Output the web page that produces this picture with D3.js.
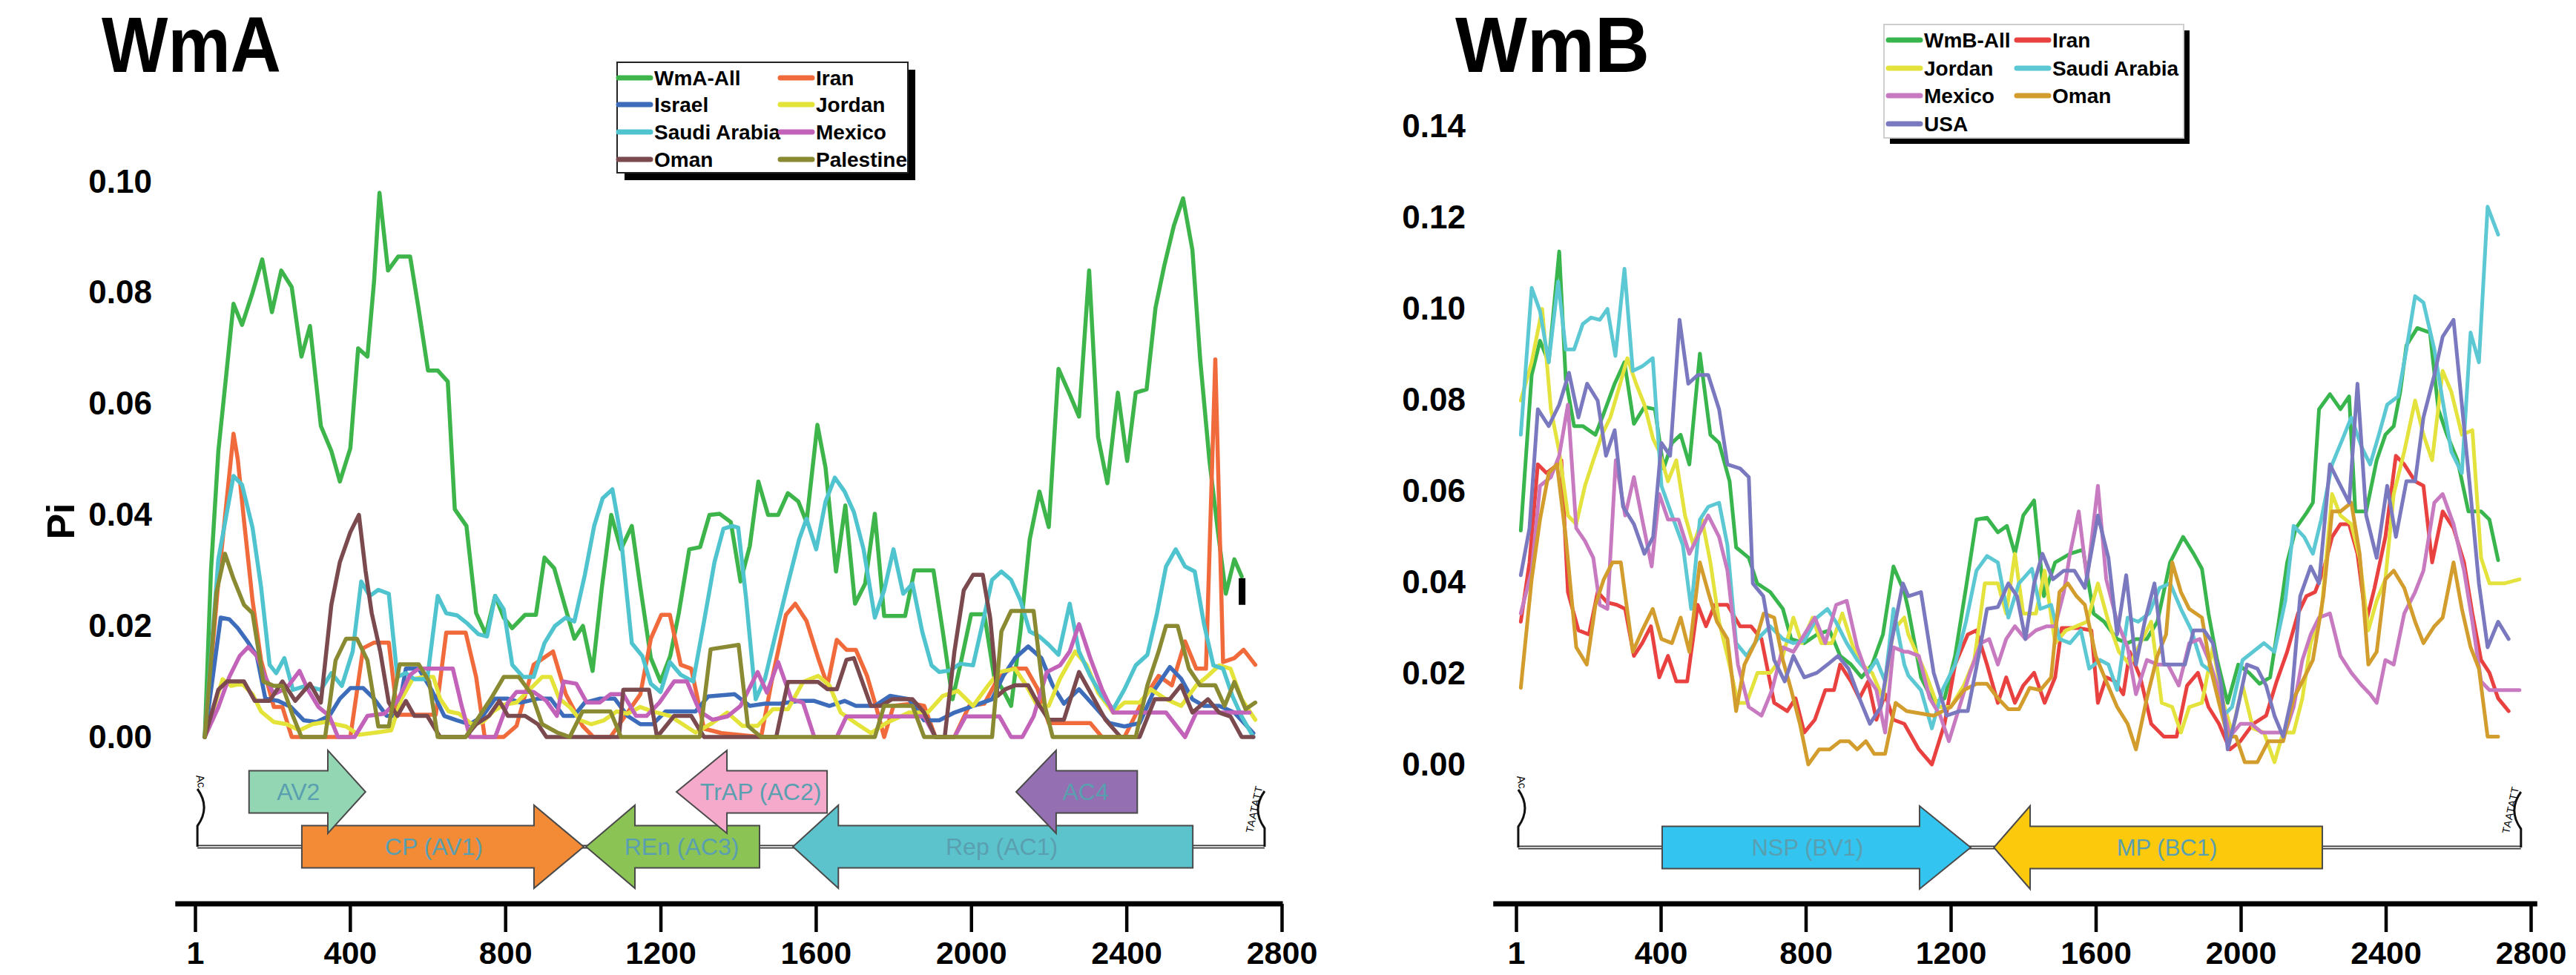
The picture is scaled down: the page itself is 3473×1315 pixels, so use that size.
<!DOCTYPE html>
<html><head><meta charset="utf-8">
<script src="https://cdn.jsdelivr.net/npm/d3@7"></script>
<style>
body{margin:0;background:#fff}
svg{display:block}
text{font-family:"Liberation Sans",Arial,Helvetica,sans-serif}
</style>
</head><body>
<svg id="c" width="3473" height="1315"></svg>
<script>
// ---------------- DATA: WmA (left) ----------------
const xTicks = [1,400,800,1200,1600,2000,2400,2800];
const yTicksA = [0,0.02,0.04,0.06,0.08,0.10];
const yTicksB = [0,0.02,0.04,0.06,0.08,0.10,0.12,0.14];

const wmaAll = [[26,0],[42,0.030],[61,0.0515],[81,0.065],[100,0.078],[122,0.0742],[149,0.080],[174,0.086],[199,0.0765],[223,0.084],[250,0.081],[275,0.0685],[297,0.074],[325,0.056],[352,0.0515],[374,0.046],[401,0.052],[421,0.070],[445,0.0685],[462,0.082],[476,0.098],[498,0.084],[524,0.0865],[555,0.0865],[577,0.077],[601,0.066],[626,0.066],[652,0.064],[670,0.041],[700,0.038],[725,0.0223],[750,0.0185],[774,0.0254],[796,0.0215],[818,0.0196],[851,0.022],[879,0.022],[901,0.0323],[926,0.0304],[956,0.023],[978,0.0177],[1000,0.020],[1025,0.0119],[1049,0.027],[1073,0.040],[1098,0.0338],[1126,0.038],[1148,0.027],[1175,0.0142],[1200,0.010],[1225,0.0146],[1247,0.0223],[1274,0.0338],[1302,0.0342],[1326,0.040],[1352,0.0402],[1381,0.0387],[1406,0.028],[1430,0.0344],[1452,0.046],[1477,0.040],[1503,0.040],[1528,0.0439],[1555,0.0424],[1576,0.0387],[1604,0.0562],[1625,0.0485],[1652,0.0298],[1676,0.0417],[1701,0.024],[1727,0.0276],[1752,0.0402],[1776,0.0218],[1830,0.0218],[1854,0.030],[1903,0.030],[1927,0.019],[1952,0.0068],[1976,0.0142],[2000,0.0221],[2034,0.0221],[2059,0.011],[2081,0.0086],[2103,0.0056],[2127,0.019],[2151,0.0356],[2176,0.0442],[2200,0.0378],[2225,0.0663],[2254,0.0617],[2278,0.0577],[2304,0.084],[2327,0.054],[2351,0.0457],[2378,0.062],[2402,0.0497],[2424,0.062],[2452,0.0626],[2475,0.0773],[2497,0.0847],[2522,0.092],[2546,0.097],[2570,0.0877],[2590,0.068],[2614,0.0497],[2634,0.038],[2656,0.0258],[2678,0.032],[2697,0.0289]];
const iranA = [[26,0],[61,0.028],[100,0.0546],[111,0.050],[127,0.039],[149,0.0246],[171,0.0138],[204,0.0054],[226,0.0054],[250,0],[401,0],[434,0.016],[462,0.017],[500,0.017],[522,0.004],[621,0.004],[648,0.0188],[698,0.0188],[725,0.0108],[747,0],[796,0],[829,0.002],[873,0.013],[923,0.0154],[956,0.0077],[999,0.002],[1027,0],[1071,0],[1148,0.0077],[1175,0.0177],[1202,0.022],[1224,0.022],[1252,0.013],[1279,0.0123],[1312,0.0015],[1357,0.0007],[1459,0],[1489,0.011],[1523,0.022],[1547,0.024],[1576,0.0209],[1606,0.0142],[1630,0.0093],[1654,0.0175],[1679,0.0157],[1703,0.0157],[1732,0.011],[1757,0.005],[1776,0],[1800,0.0056],[1849,0.006],[1879,0.0056],[1908,0],[1957,0],[1995,0.0056],[2034,0.006],[2073,0.011],[2103,0.0123],[2142,0.0123],[2171,0.0087],[2200,0.0025],[2307,0.0025],[2337,0],[2395,0],[2444,0.0068],[2483,0.011],[2517,0.0093],[2551,0.0172],[2580,0.0123],[2605,0.0123],[2629,0.068],[2649,0.0135],[2678,0.0142],[2702,0.0157],[2732,0.013]];
const israelA = [[26,0],[67,0.0215],[89,0.0212],[111,0.0196],[138,0.017],[160,0.0146],[182,0.0069],[215,0.0065],[248,0.0054],[281,0.003],[314,0.0027],[347,0.0038],[374,0.0069],[401,0.0088],[434,0.0088],[462,0.0069],[495,0.0038],[522,0.0038],[544,0.0123],[577,0.0123],[610,0.0085],[643,0.0038],[676,0.003],[709,0.0023],[742,0.0038],[774,0.0069],[807,0.0069],[840,0.0062],[884,0.0069],[917,0.0069],[950,0.0038],[977,0.0038],[1005,0.0062],[1043,0.0069],[1082,0.0069],[1115,0.0038],[1148,0.0023],[1180,0.0023],[1213,0.0046],[1247,0.0046],[1290,0.0046],[1323,0.0073],[1391,0.0077],[1430,0.0056],[1469,0.006],[1508,0.006],[1557,0.0065],[1596,0.0065],[1635,0.0056],[1674,0.0065],[1703,0.0056],[1752,0.0056],[1791,0.0074],[1840,0.0068],[1879,0.003],[1918,0.003],[1957,0.0044],[2005,0.0056],[2054,0.0068],[2083,0.011],[2113,0.0142],[2147,0.0163],[2181,0.0142],[2210,0.0093],[2239,0.006],[2278,0.0086],[2317,0.0056],[2356,0.0025],[2395,0.0019],[2434,0.0025],[2473,0.0086],[2512,0.0126],[2541,0.0105],[2570,0.0068],[2600,0.0056],[2639,0.0056],[2678,0.0044],[2727,0.0007]];
const jordanA = [[26,0],[72,0.0104],[94,0.0092],[122,0.0096],[149,0.0077],[171,0.0046],[204,0.0027],[237,0.0023],[270,0.0012],[303,0.0023],[336,0.0027],[363,0.0023],[390,0.0019],[423,0.0004],[467,0.0008],[506,0.0012],[533,0.0069],[561,0.0104],[588,0.0108],[615,0.0108],[632,0.0069],[654,0.0046],[681,0.0042],[714,0.0023],[742,0.0027],[769,0.0046],[796,0.0058],[829,0.0062],[862,0.0085],[895,0.0108],[917,0.0108],[939,0.0069],[966,0.0054],[994,0.003],[1021,0.0023],[1054,0.003],[1087,0.0046],[1115,0.0042],[1148,0.0054],[1180,0.0046],[1224,0.0038],[1257,0.0023],[1290,0.0008],[1333,0.0025],[1372,0.0044],[1411,0.002],[1450,0.002],[1489,0.005],[1528,0.005],[1567,0.0099],[1606,0.011],[1635,0.0093],[1664,0.0044],[1703,0.0025],[1742,0.0007],[1781,0.0025],[1840,0.0044],[1888,0.0044],[1927,0.0074],[1966,0.0083],[2005,0.0056],[2044,0.0093],[2073,0.0117],[2113,0.0123],[2142,0.0093],[2171,0.0056],[2200,0.0056],[2229,0.0105],[2268,0.0154],[2298,0.0129],[2327,0.008],[2366,0.0044],[2395,0.0062],[2434,0.0062],[2463,0.0086],[2502,0.0068],[2541,0.0056],[2580,0.0093],[2610,0.011],[2639,0.0129],[2668,0.0123],[2697,0.0068],[2732,0.0031]];
const saudiA = [[26,0],[61,0.032],[100,0.047],[122,0.0454],[149,0.0377],[171,0.027],[193,0.013],[210,0.0115],[231,0.0142],[253,0.0085],[286,0.0092],[325,0.0085],[352,0.0115],[379,0.0092],[407,0.0154],[429,0.028],[451,0.0254],[473,0.0265],[500,0.0258],[522,0.0108],[544,0.0115],[566,0.0104],[599,0.0104],[626,0.0254],[648,0.0223],[676,0.0219],[703,0.0204],[731,0.0185],[753,0.0181],[774,0.0254],[796,0.023],[818,0.013],[846,0.0108],[873,0.0108],[901,0.0169],[928,0.02],[956,0.0215],[978,0.0208],[1005,0.0292],[1029,0.038],[1051,0.043],[1076,0.0446],[1098,0.036],[1126,0.0169],[1153,0.0146],[1175,0.0096],[1200,0.0081],[1224,0.0135],[1252,0.0112],[1284,0.01],[1312,0.0208],[1339,0.0315],[1362,0.0375],[1385,0.038],[1400,0.0377],[1420,0.0252],[1445,0.0068],[1469,0.0105],[1498,0.019],[1528,0.0276],[1557,0.0356],[1576,0.0393],[1601,0.0338],[1625,0.0424],[1649,0.0467],[1674,0.0442],[1698,0.0405],[1723,0.0338],[1752,0.0215],[1776,0.0264],[1800,0.0338],[1825,0.0258],[1849,0.0276],[1874,0.019],[1898,0.0129],[1918,0.0117],[1947,0.012],[1971,0.0132],[2005,0.0129],[2030,0.0206],[2054,0.0283],[2078,0.0298],[2103,0.0283],[2127,0.0246],[2151,0.019],[2176,0.0181],[2200,0.0166],[2225,0.0148],[2254,0.024],[2278,0.0154],[2307,0.011],[2337,0.0074],[2366,0.005],[2395,0.0086],[2424,0.0129],[2454,0.0148],[2478,0.022],[2502,0.0307],[2527,0.0338],[2551,0.0307],[2576,0.0298],[2600,0.0203],[2624,0.0129],[2649,0.0123],[2673,0.0074],[2697,0.0037],[2727,0]];
const mexicoA = [[26,0],[61,0.0054],[89,0.0108],[116,0.0146],[138,0.0162],[160,0.0146],[182,0.0108],[204,0.0077],[237,0.0088],[270,0.0119],[292,0.0085],[319,0.0054],[347,0.0038],[369,0],[412,0],[445,0.0038],[489,0.0042],[522,0.0065],[555,0.0112],[577,0.0123],[665,0.0123],[687,0.0058],[709,0],[774,0],[807,0.0062],[829,0.0081],[873,0.0081],[906,0.0065],[933,0.0038],[950,0.01],[983,0.0096],[1010,0.0062],[1043,0.0062],[1071,0.0077],[1104,0.0077],[1137,0.0038],[1164,0.0038],[1197,0.0062],[1235,0.01],[1268,0.01],[1301,0.0046],[1334,0.0031],[1372,0.0037],[1406,0.0056],[1450,0.0117],[1474,0.008],[1503,0.0135],[1537,0.0068],[1567,0.0062],[1596,0],[1654,0],[1679,0.0037],[1879,0.0037],[1908,0],[1957,0],[1986,0.0037],[2073,0.0037],[2103,0],[2132,0],[2161,0.0037],[2195,0.0117],[2229,0.0129],[2254,0.0154],[2278,0.0203],[2307,0.0142],[2337,0.0086],[2366,0.0044],[2502,0.0044],[2551,0],[2580,0.0044],[2717,0.0044]];
const omanA = [[26,0],[61,0.0085],[83,0.01],[127,0.01],[155,0.0065],[193,0.0065],[226,0.01],[259,0.0065],[297,0.0096],[325,0.0062],[352,0.0238],[374,0.0315],[401,0.0369],[423,0.040],[440,0.030],[456,0.0223],[478,0.0154],[500,0.0062],[522,0.0038],[544,0.0065],[566,0.0038],[599,0.0038],[632,0],[698,0],[725,0.0023],[758,0.0038],[785,0.0065],[807,0.0038],[851,0.0038],[884,0.0023],[906,0],[1093,0],[1104,0.0085],[1170,0.0085],[1191,0],[1235,0.0038],[1279,0.0038],[1312,0],[1498,0],[1528,0.0099],[1606,0.0099],[1630,0.0086],[1654,0.0086],[1679,0.0139],[1698,0.0142],[1723,0.0093],[1742,0.0056],[1767,0.0056],[1796,0.0068],[1849,0.0068],[1879,0.0044],[1908,0],[1932,0],[1957,0.0154],[1981,0.0264],[2005,0.0292],[2030,0.0292],[2049,0.0215],[2068,0.0074],[2088,0.0086],[2113,0.0093],[2147,0.0093],[2171,0.0062],[2200,0.0031],[2239,0.0031],[2278,0.0117],[2317,0.0068],[2346,0.0031],[2385,0],[2434,0],[2473,0.0068],[2512,0.0068],[2541,0.0093],[2570,0.0044],[2610,0.0068],[2639,0.0044],[2668,0.0037],[2697,0],[2727,0]];
const palestineA = [[26,0],[56,0.026],[78,0.033],[100,0.0285],[127,0.0238],[149,0.0223],[177,0.010],[204,0.0092],[226,0.0092],[253,0.0038],[275,0],[336,0],[363,0.0138],[390,0.0177],[418,0.0177],[445,0.0138],[473,0.0019],[500,0.0019],[528,0.0131],[577,0.0131],[604,0.010],[626,0],[698,0],[763,0.0069],[796,0.0108],[835,0.0108],[868,0.0077],[895,0.0023],[934,0.0008],[966,0],[999,0.0046],[1071,0.0046],[1098,0],[1301,0],[1329,0.0158],[1401,0.0166],[1425,0.002],[1459,0],[1752,0],[1776,0.0056],[1849,0.0056],[1879,0],[2054,0],[2078,0.019],[2103,0.0227],[2161,0.0227],[2190,0.0056],[2210,0],[2424,0],[2454,0.0093],[2483,0.0154],[2502,0.020],[2532,0.020],[2561,0.0123],[2590,0.0093],[2629,0.0093],[2653,0.0056],[2678,0.0099],[2707,0.005],[2732,0.0062]];

// ---------------- DATA: WmB (right) ----------------
const wmbAll = [[14,0.0513],[44,0.0854],[67,0.0929],[91,0.0882],[120,0.1125],[138,0.0845],[161,0.0742],[185,0.0742],[220,0.0723],[243,0.077],[273,0.0835],[300,0.0882],[326,0.0747],[355,0.0784],[384,0.0779],[408,0.0649],[431,0.0705],[455,0.0723],[479,0.0658],[508,0.0901],[537,0.0723],[561,0.0705],[590,0.0621],[608,0.0476],[643,0.0453],[666,0.0397],[702,0.0378],[737,0.0341],[760,0.0275],[796,0.0266],[831,0.0285],[866,0.0294],[895,0.0238],[925,0.0219],[954,0.0191],[983,0.0219],[1013,0.0285],[1042,0.0434],[1072,0.0378],[1083,0.034],[1118,0.0191],[1153,0.0135],[1183,0.0145],[1212,0.0238],[1242,0.0387],[1271,0.0537],[1300,0.0541],[1330,0.0509],[1355,0.0523],[1377,0.0462],[1400,0.0546],[1430,0.0579],[1457,0.0369],[1488,0.0443],[1529,0.0462],[1565,0.0471],[1594,0.0331],[1623,0.0313],[1659,0.0275],[1688,0.0266],[1711,0.0275],[1741,0.0275],[1770,0.0313],[1805,0.0443],[1841,0.0499],[1870,0.0462],[1893,0.0429],[1911,0.0331],[1935,0.0229],[1964,0.0135],[1993,0.0219],[2023,0.0201],[2052,0.0177],[2081,0.0191],[2105,0.0313],[2128,0.0443],[2152,0.0518],[2181,0.0551],[2199,0.0574],[2216,0.0779],[2246,0.0812],[2275,0.0779],[2299,0.0807],[2316,0.0555],[2346,0.0555],[2375,0.0667],[2399,0.0723],[2422,0.0742],[2440,0.0817],[2457,0.0919],[2487,0.0957],[2522,0.0947],[2545,0.0779],[2569,0.0723],[2598,0.0667],[2628,0.0555],[2663,0.0555],[2686,0.0537],[2710,0.0448]];
const iranB = [[14,0.0313],[38,0.0443],[61,0.0658],[85,0.0639],[108,0.0653],[126,0.0667],[144,0.0378],[173,0.0294],[202,0.0285],[226,0.0378],[253,0.0355],[279,0.035],[302,0.0341],[326,0.0238],[349,0.0266],[373,0.0303],[396,0.0191],[420,0.0238],[443,0.0182],[473,0.0182],[502,0.035],[525,0.0303],[549,0.035],[584,0.035],[619,0.0303],[649,0.0303],[678,0.0275],[713,0.0135],[749,0.0117],[772,0.0145],[796,0.007],[825,0.0098],[854,0.0163],[878,0.0163],[895,0.0219],[925,0.0182],[948,0.0145],[972,0.0182],[995,0.0098],[1019,0.0154],[1042,0.0098],[1072,0.0089],[1112,0.0033],[1148,0],[1183,0.0089],[1212,0.0219],[1247,0.0285],[1271,0.0294],[1300,0.0219],[1330,0.0135],[1353,0.0191],[1377,0.0135],[1400,0.0173],[1430,0.0201],[1459,0.0135],[1488,0.0191],[1506,0.0299],[1553,0.0299],[1588,0.0294],[1606,0.0135],[1629,0.0191],[1653,0.0182],[1676,0.0154],[1694,0.0247],[1723,0.0191],[1753,0.0089],[1788,0.0061],[1823,0.0061],[1852,0.0173],[1882,0.0201],[1911,0.0126],[1940,0.0089],[1970,0.0033],[1999,0.0051],[2034,0.0089],[2070,0.0107],[2099,0.0182],[2128,0.0247],[2158,0.0331],[2181,0.0369],[2205,0.0378],[2228,0.0425],[2252,0.0499],[2275,0.0527],[2299,0.0527],[2322,0.0462],[2346,0.0313],[2369,0.0387],[2399,0.0499],[2428,0.0677],[2451,0.0658],[2481,0.0621],[2504,0.0611],[2528,0.0443],[2557,0.0555],[2587,0.0518],[2616,0.0443],[2639,0.0331],[2663,0.0229],[2686,0.0201],[2710,0.0145],[2739,0.0117]];
const jordanB = [[14,0.0798],[44,0.0882],[73,0.0999],[97,0.0779],[120,0.0686],[144,0.0546],[167,0.0527],[191,0.0611],[214,0.0667],[238,0.0723],[261,0.0761],[285,0.0826],[308,0.0891],[332,0.0835],[355,0.0789],[379,0.0714],[396,0.0686],[420,0.0621],[443,0.0667],[467,0.0546],[490,0.0481],[514,0.0537],[537,0.0443],[561,0.0313],[584,0.0238],[613,0.0135],[637,0.0135],[667,0.0201],[702,0.0201],[737,0.0238],[766,0.0322],[789,0.0266],[819,0.0322],[843,0.0266],[872,0.0266],[901,0.0331],[931,0.0257],[954,0.0219],[983,0.0201],[1013,0.0145],[1042,0.0294],[1072,0.0322],[1083,0.0285],[1130,0.0201],[1165,0.0126],[1200,0.0126],[1236,0.0173],[1265,0.0229],[1294,0.0397],[1330,0.0397],[1353,0.0331],[1377,0.0462],[1400,0.0331],[1435,0.0331],[1459,0.0425],[1488,0.0266],[1518,0.0294],[1547,0.0303],[1576,0.0313],[1606,0.0397],[1635,0.0313],[1664,0.0247],[1694,0.0219],[1723,0.0266],[1753,0.0313],[1782,0.0135],[1811,0.0126],[1835,0.007],[1858,0.0126],[1893,0.0135],[1923,0.0257],[1952,0.0135],[1976,0.007],[2005,0.0173],[2034,0.0079],[2064,0.007],[2093,0.0005],[2117,0.007],[2146,0.007],[2170,0.0145],[2193,0.0266],[2222,0.0331],[2252,0.0593],[2275,0.0546],[2305,0.0527],[2328,0.0453],[2352,0.0294],[2375,0.0359],[2399,0.0406],[2422,0.0593],[2451,0.0686],[2481,0.0798],[2504,0.0723],[2528,0.0667],[2557,0.0863],[2581,0.0817],[2610,0.0723],[2639,0.0733],[2663,0.0453],[2686,0.0397],[2727,0.0397],[2769,0.0406]];
const saudiB = [[14,0.0723],[44,0.1045],[67,0.0994],[91,0.0882],[117,0.1059],[138,0.091],[161,0.091],[185,0.0966],[208,0.098],[232,0.0975],[253,0.0999],[275,0.0896],[300,0.1087],[323,0.0863],[349,0.0873],[378,0.0891],[402,0.0611],[431,0.0546],[461,0.0481],[484,0.0341],[508,0.0537],[531,0.0565],[561,0.0574],[584,0.0481],[608,0.0266],[637,0.0238],[667,0.0275],[702,0.0303],[737,0.0275],[766,0.0266],[796,0.0271],[831,0.0322],[860,0.0341],[883,0.0313],[913,0.0266],[942,0.0229],[972,0.0201],[995,0.0229],[1019,0.0182],[1042,0.0341],[1072,0.0219],[1083,0.0195],[1118,0.0163],[1148,0.0079],[1177,0.0163],[1212,0.0219],[1242,0.0313],[1271,0.0425],[1300,0.0457],[1330,0.0443],[1359,0.0322],[1388,0.0397],[1424,0.0429],[1447,0.0341],[1477,0.035],[1500,0.0275],[1529,0.0266],[1559,0.0294],[1582,0.021],[1612,0.0229],[1635,0.0219],[1659,0.0163],[1688,0.0322],[1717,0.0313],[1747,0.0331],[1776,0.0387],[1805,0.0397],[1835,0.0341],[1864,0.0294],[1893,0.0219],[1923,0.0201],[1952,0.0107],[1976,0.0126],[2005,0.0229],[2034,0.0247],[2064,0.0266],[2093,0.0247],[2123,0.0359],[2146,0.0523],[2175,0.0499],[2199,0.0462],[2222,0.0537],[2252,0.0658],[2281,0.0714],[2305,0.0761],[2334,0.0695],[2357,0.0658],[2381,0.0723],[2404,0.0789],[2434,0.0807],[2457,0.091],[2481,0.1027],[2504,0.1013],[2534,0.091],[2557,0.0798],[2581,0.0686],[2610,0.0639],[2634,0.0947],[2657,0.0882],[2681,0.1223],[2710,0.1162]];
const mexicoB = [[14,0.0331],[44,0.0425],[67,0.0611],[97,0.063],[120,0.0677],[144,0.0789],[167,0.0518],[191,0.049],[214,0.0453],[232,0.035],[253,0.0341],[276,0.0667],[302,0.0546],[326,0.063],[349,0.0537],[375,0.0434],[396,0.0593],[420,0.0537],[449,0.0537],[479,0.0462],[502,0.0499],[531,0.0546],[561,0.0499],[584,0.0425],[613,0.0219],[643,0.0126],[678,0.0107],[707,0.0163],[737,0.0257],[766,0.0247],[796,0.0285],[825,0.0322],[854,0.0266],[884,0.035],[913,0.0359],[942,0.0257],[972,0.0191],[995,0.0163],[1019,0.007],[1042,0.0257],[1072,0.0247],[1083,0.0247],[1112,0.0238],[1142,0.0145],[1171,0.0107],[1195,0.0051],[1224,0.0126],[1253,0.0201],[1283,0.0266],[1306,0.0275],[1330,0.0219],[1353,0.0275],[1377,0.0303],[1406,0.0275],[1435,0.0294],[1465,0.0303],[1488,0.0303],[1512,0.0378],[1529,0.0462],[1553,0.0555],[1576,0.0406],[1606,0.0611],[1629,0.0406],[1659,0.0313],[1688,0.0257],[1711,0.0154],[1741,0.0229],[1770,0.0219],[1799,0.0219],[1829,0.0173],[1858,0.0266],[1887,0.0275],[1917,0.0219],[1946,0.0145],[1970,0.0061],[1999,0.0089],[2029,0.0089],[2058,0.007],[2123,0.007],[2146,0.0126],[2170,0.0229],[2193,0.0285],[2216,0.0322],[2246,0.0331],[2275,0.0238],[2305,0.0201],[2334,0.0173],[2357,0.0154],[2375,0.0135],[2399,0.0229],[2422,0.0219],[2451,0.0331],[2481,0.0378],[2504,0.0425],[2534,0.0574],[2557,0.0593],[2587,0.0527],[2616,0.0425],[2639,0.0313],[2663,0.0182],[2686,0.0163],[2769,0.0163]];
const omanB = [[14,0.0168],[44,0.0406],[67,0.0537],[91,0.0639],[114,0.0658],[138,0.0499],[167,0.0257],[196,0.0219],[220,0.035],[243,0.0406],[267,0.0443],[290,0.0443],[323,0.0247],[349,0.0294],[378,0.0341],[402,0.0275],[431,0.0266],[455,0.0322],[479,0.0247],[508,0.0443],[531,0.0378],[555,0.0313],[584,0.0275],[608,0.0117],[631,0.0219],[660,0.0266],[684,0.0331],[713,0.0322],[737,0.0229],[760,0.0163],[784,0.0089],[807,0],[837,0.0033],[866,0.0033],[895,0.0051],[919,0.0051],[942,0.0033],[966,0.0051],[989,0.0023],[1019,0.0023],[1048,0.0135],[1078,0.0117],[1153,0.0107],[1200,0.0126],[1236,0.0163],[1271,0.0177],[1300,0.0177],[1330,0.0145],[1359,0.0121],[1388,0.0121],[1418,0.0168],[1447,0.0163],[1477,0.0191],[1500,0.0378],[1523,0.0397],[1547,0.0369],[1570,0.035],[1600,0.0238],[1629,0.0182],[1659,0.0126],[1688,0.0089],[1711,0.0033],[1741,0.0145],[1770,0.0238],[1794,0.0285],[1811,0.0443],[1835,0.0378],[1858,0.0341],[1893,0.0322],[1917,0.021],[1940,0.0135],[1964,0.0061],[1987,0.0061],[2011,0.0005],[2046,0.0005],[2076,0.0051],[2117,0.0051],[2146,0.0145],[2170,0.0182],[2199,0.0229],[2228,0.0369],[2252,0.0555],[2275,0.0555],[2305,0.0574],[2328,0.0462],[2352,0.0219],[2375,0.0247],[2399,0.0406],[2422,0.0425],[2451,0.0387],[2481,0.0313],[2504,0.0266],[2534,0.0303],[2557,0.0322],[2587,0.0443],[2610,0.0341],[2634,0.0257],[2657,0.021],[2681,0.0061],[2710,0.0061]];
const usaB = [[14,0.0415],[38,0.0518],[61,0.0779],[91,0.0742],[120,0.0789],[147,0.0859],[173,0.0761],[197,0.0835],[226,0.0798],[249,0.0677],[273,0.0733],[296,0.0565],[326,0.0527],[355,0.0462],[379,0.0499],[402,0.0705],[426,0.0677],[452,0.0975],[476,0.0835],[502,0.0854],[531,0.0854],[561,0.0779],[584,0.0658],[619,0.0649],[643,0.063],[654,0.0397],[683,0.0369],[713,0.0229],[742,0.0182],[766,0.0238],[796,0.0191],[831,0.0201],[860,0.0219],[889,0.0238],[918,0.021],[948,0.0145],[977,0.0089],[1007,0.0126],[1036,0.0266],[1068,0.0397],[1083,0.0369],[1118,0.0378],[1153,0.0201],[1189,0.0107],[1224,0.0117],[1247,0.0117],[1277,0.0238],[1300,0.0341],[1330,0.0345],[1359,0.0397],[1383,0.0369],[1406,0.0275],[1430,0.0397],[1453,0.0462],[1482,0.0406],[1512,0.0425],[1541,0.0425],[1570,0.0387],[1606,0.0546],[1635,0.0453],[1659,0.0285],[1684,0.0415],[1711,0.0219],[1735,0.0313],[1762,0.0397],[1788,0.0219],[1846,0.0219],[1870,0.0294],[1899,0.0294],[1923,0.0266],[1946,0.0173],[1964,0.0033],[1987,0.0107],[2017,0.0219],[2046,0.021],[2070,0.0173],[2093,0.0107],[2117,0.0061],[2140,0.0145],[2164,0.0369],[2193,0.0434],[2216,0.0397],[2246,0.0658],[2269,0.0621],[2299,0.0574],[2322,0.0835],[2346,0.0546],[2375,0.0453],[2404,0.0611],[2428,0.0499],[2457,0.0621],[2481,0.0621],[2504,0.0761],[2534,0.0854],[2557,0.0938],[2587,0.0975],[2610,0.0789],[2634,0.0593],[2657,0.0397],[2681,0.0257],[2710,0.0313],[2739,0.0275]];

// series names & colours
const namesA = ["WmA-All","Iran","Israel","Jordan","Saudi Arabia","Mexico","Oman","Palestine"];
const colorsA = ["#3db54a","#f06a3c","#3d6dba","#e4e33a","#4fc4cf","#c262b8","#7b4a4e","#8a8a32"];
const dataA = [wmaAll,iranA,israelA,jordanA,saudiA,mexicoA,omanA,palestineA];

const namesB = ["WmB-All","Iran","Jordan","Saudi Arabia","Mexico","Oman","USA"];
const colorsB = ["#38b54c","#e8413f","#e4e23c","#5bc8d3","#c77ac0","#d39d2e","#7a79c0"];
const dataB = [wmbAll,iranB,jordanB,saudiB,mexicoB,omanB,usaB];

// gene maps: [label, start(bp), headBase(bp), tip(bp), row, fill]
const genesA = [
  ["CP (AV1)",276,874,1002,"low","#f28a36"],
  ["REn (AC3)",1455,1134,1008,"low","#8cc355"],
  ["Rep (AC1)",2571,1658,1541,"low","#5cc3cd"],
  ["AV2",140,343,440,"up","#93d6b4"],
  ["TrAP (AC2)",1629,1371,1241,"up","#f5aacb"],
  ["AC4",2428,2219,2116,"up","#946fb1"]
];
const genesB = [
  ["NSP (BV1)",404,1114,1255,"low","#33c4ef"],
  ["MP (BC1)",2225,1419,1319,"low","#fdc90d"]
];
const genomeA = [7,2756];
const genomeB = [7,2773];

// ---------------- DRAW ----------------
const svg = d3.select("#c");

function panel(cfg){
  const g = svg.append("g");
  const x = d3.scaleLinear().domain([1,2800]).range(cfg.xr);
  const y = d3.scaleLinear().domain(cfg.yd).range(cfg.yr);

  // title
  g.append("text").attr("x",cfg.titleX).attr("y",97).attr("font-size",106).attr("font-weight","bold")
   .attr("textLength",cfg.titleW).attr("lengthAdjust","spacingAndGlyphs").text(cfg.title);

  // y tick labels
  const ya = g.append("g").attr("transform",`translate(${cfg.yLabelX},0)`)
    .call(d3.axisLeft(y).tickValues(cfg.yTicks).tickFormat(d3.format(".2f")).tickSize(0).tickPadding(0));
  ya.select(".domain").remove();
  ya.selectAll("text").attr("font-size",44).attr("font-weight","bold").attr("fill","#000")
    .attr("font-family",'"Liberation Sans",Arial,sans-serif');

  // lines
  const line = d3.line().x(d=>x(d[0])).y(d=>y(d[1])).curve(d3.curveLinear);
  cfg.data.forEach((s,i)=>{
    g.append("path").datum(s).attr("d",line).attr("fill","none")
     .attr("stroke",cfg.colors[i]).attr("stroke-width",cfg.lw)
     .attr("stroke-linejoin","round").attr("stroke-linecap","round");
  });

  // genome backbone
  const bb = cfg.rowLow;
  g.append("line").attr("x1",x(cfg.genome[0])).attr("x2",x(cfg.genome[1])).attr("y1",bb).attr("y2",bb)
   .attr("stroke","#3a3a3a").attr("stroke-width",5);
  g.append("line").attr("x1",x(cfg.genome[0])).attr("x2",x(cfg.genome[1])).attr("y1",bb).attr("y2",bb)
   .attr("stroke","#cfcfcf").attr("stroke-width",2);

  // hairpins
  const hx0 = x(cfg.genome[0]), hx1 = x(cfg.genome[1]);
  const hp = g.append("g").attr("fill","none").attr("stroke","#111").attr("stroke-width",3);
  hp.append("path").attr("d",`M${hx0},${bb} L${hx0},${bb-28} Q${hx0+18},${bb-53} ${hx0},${bb-78}`);
  hp.append("path").attr("d",`M${hx1},${bb} L${hx1},${bb-25} Q${hx1-18},${bb-50} ${hx1},${bb-75}`);
  g.append("text").attr("transform",`translate(${hx0-2},${bb-96}) rotate(80)`).attr("font-size",15).text("Ac");
  g.append("text").attr("transform",`translate(${hx1-16},${bb-18}) rotate(-78)`).attr("font-size",14)
   .attr("letter-spacing",1).text("TAATATT");

  // genes
  const bh = 28.5, hh = 56;
  cfg.genes.forEach(d=>{
    const cy = d[4]==="low" ? cfg.rowLow : cfg.rowUp;
    const xs = x(d[1]), xb = x(d[2]), xt = x(d[3]);
    const p = `M${xs},${cy-bh} L${xb},${cy-bh} L${xb},${cy-hh} L${xt},${cy} L${xb},${cy+hh} L${xb},${cy+bh} L${xs},${cy+bh} Z`;
    g.append("path").attr("d",p).attr("fill",d[5]).attr("stroke","#4a4a4a").attr("stroke-width",2);
    g.append("text").attr("x",(xs+xt)/2 + (xs<xt?-12:12)).attr("y",cy+11).attr("text-anchor","middle")
     .attr("font-size",cfg.geneFont).attr("fill","#5a9fb0").text(d[0]);
  });

  // x axis
  const ax = g.append("g").attr("transform",`translate(0,${cfg.axisY})`)
    .call(d3.axisBottom(x).tickValues(xTicks).tickFormat(d3.format("d")).tickSize(38).tickPadding(12));
  ax.select(".domain").remove();
  ax.selectAll(".tick line").attr("stroke","#000").attr("stroke-width",4.5);
  ax.selectAll("text").attr("font-size",43).attr("font-weight","bold").attr("fill","#000")
    .attr("font-family",'"Liberation Sans",Arial,sans-serif');
  g.append("line").attr("x1",x(cfg.axisExt[0])).attr("x2",x(cfg.axisExt[1]))
   .attr("y1",cfg.axisY).attr("y2",cfg.axisY).attr("stroke","#000").attr("stroke-width",7);

  // legend
  const L = cfg.legend;
  g.append("rect").attr("x",L.x+L.sh).attr("y",L.y+L.sh).attr("width",L.w).attr("height",L.h).attr("fill","#000");
  g.append("rect").attr("x",L.x).attr("y",L.y).attr("width",L.w).attr("height",L.h).attr("fill","#fff")
   .attr("stroke",L.stroke).attr("stroke-width",2);
  cfg.names.forEach((n,i)=>{
    const col = L.order[i][0], row = L.order[i][1];
    const lx = L.cols[col], ly = L.rows[row];
    g.append("line").attr("x1",lx).attr("x2",lx+43).attr("y1",ly).attr("y2",ly)
     .attr("stroke",cfg.colors[i]).attr("stroke-width",7).attr("stroke-linecap","round");
    g.append("text").attr("x",lx+48).attr("y",ly+10).attr("font-size",28).attr("font-weight","bold")
     .attr("fill","#000").text(n);
  });
  return {x,y,g};
}

const A = panel({
  title:"WmA", titleX:137, titleW:242,
  xr:[263,1728], yd:[0,0.10], yr:[994,245], yTicks:yTicksA, yLabelX:205,
  data:dataA, colors:colorsA, names:namesA, lw:5.5,
  genes:genesA, genome:genomeA, rowLow:1142, rowUp:1068, geneFont:32,
  axisY:1219, axisExt:[-50,2803],
  legend:{x:832,y:84,w:392,h:149,sh:10,stroke:"#222",
    cols:[834,1052], rows:[105,141,178,215],
    order:[[0,0],[1,0],[0,1],[1,1],[0,2],[1,2],[0,3],[1,3]]}
});

// small black mark near the end of WmA-All
A.g.append("rect").attr("x",A.x(2697)-4).attr("width",9)
 .attr("y",A.y(0.0286)).attr("height",A.y(0.0238)-A.y(0.0286)).attr("fill","#000");

// Pi label
svg.append("text").attr("transform","translate(100,703) rotate(-90)").attr("text-anchor","middle")
  .attr("font-size",52).attr("font-weight","bold").text("Pi");

const B = panel({
  title:"WmB", titleX:1962, titleW:262,
  xr:[2044,3412], yd:[0,0.14], yr:[1031,170], yTicks:yTicksB, yLabelX:1976,
  data:dataB, colors:colorsB, names:namesB, lw:5,
  genes:genesB, genome:genomeB, rowLow:1143, rowUp:1068, geneFont:31,
  axisY:1219, axisExt:[-62,2818],
  legend:{x:2540,y:33,w:404,h:153,sh:8,stroke:"#cfcfcf",
    cols:[2546,2719], rows:[54,92,129,167],
    order:[[0,0],[1,0],[0,1],[1,1],[0,2],[1,2],[0,3]]}
});
</script>
</body></html>
